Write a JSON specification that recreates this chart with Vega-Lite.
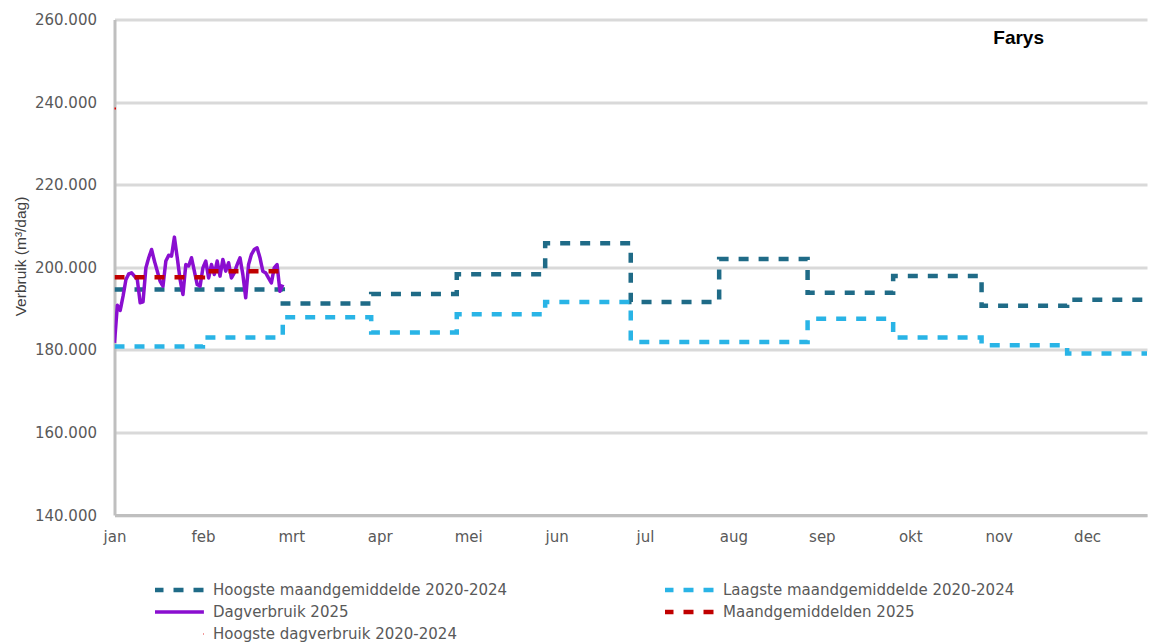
{
  "$schema": "https://vega.github.io/schema/vega-lite/v6.json",
  "width": 1032.5,
  "height": 495.5,
  "autosize": {"type": "none"},
  "padding": {"left": 114.5, "top": 19.5, "right": 2, "bottom": 128},
  "background": "white",
  "title": {"text": "Farys", "anchor": "end", "frame": "group", "orient": "top", "offset": -24.5, "dx": -103, "dy": 26, "baseline": "alphabetic", "font": "Liberation Sans", "fontSize": 19, "fontWeight": "bold", "color": "#000000"},
  "datasets": {
    "maand": [
      {"dag": 0, "waarde": 194600, "reeks": "Hoogste maandgemiddelde 2020-2024"},
      {"dag": 31, "waarde": 194600, "reeks": "Hoogste maandgemiddelde 2020-2024"},
      {"dag": 59, "waarde": 191200, "reeks": "Hoogste maandgemiddelde 2020-2024"},
      {"dag": 90, "waarde": 193500, "reeks": "Hoogste maandgemiddelde 2020-2024"},
      {"dag": 120, "waarde": 198300, "reeks": "Hoogste maandgemiddelde 2020-2024"},
      {"dag": 151, "waarde": 205800, "reeks": "Hoogste maandgemiddelde 2020-2024"},
      {"dag": 181, "waarde": 191600, "reeks": "Hoogste maandgemiddelde 2020-2024"},
      {"dag": 212, "waarde": 202000, "reeks": "Hoogste maandgemiddelde 2020-2024"},
      {"dag": 243, "waarde": 193800, "reeks": "Hoogste maandgemiddelde 2020-2024"},
      {"dag": 273, "waarde": 197900, "reeks": "Hoogste maandgemiddelde 2020-2024"},
      {"dag": 304, "waarde": 190700, "reeks": "Hoogste maandgemiddelde 2020-2024"},
      {"dag": 334, "waarde": 192100, "reeks": "Hoogste maandgemiddelde 2020-2024"},
      {"dag": 365, "waarde": 192100, "reeks": "Hoogste maandgemiddelde 2020-2024"},
      {"dag": 0, "waarde": 180800, "reeks": "Laagste maandgemiddelde 2020-2024"},
      {"dag": 31, "waarde": 183000, "reeks": "Laagste maandgemiddelde 2020-2024"},
      {"dag": 59, "waarde": 187900, "reeks": "Laagste maandgemiddelde 2020-2024"},
      {"dag": 90, "waarde": 184200, "reeks": "Laagste maandgemiddelde 2020-2024"},
      {"dag": 120, "waarde": 188600, "reeks": "Laagste maandgemiddelde 2020-2024"},
      {"dag": 151, "waarde": 191600, "reeks": "Laagste maandgemiddelde 2020-2024"},
      {"dag": 181, "waarde": 181900, "reeks": "Laagste maandgemiddelde 2020-2024"},
      {"dag": 212, "waarde": 181900, "reeks": "Laagste maandgemiddelde 2020-2024"},
      {"dag": 243, "waarde": 187500, "reeks": "Laagste maandgemiddelde 2020-2024"},
      {"dag": 273, "waarde": 183000, "reeks": "Laagste maandgemiddelde 2020-2024"},
      {"dag": 304, "waarde": 181100, "reeks": "Laagste maandgemiddelde 2020-2024"},
      {"dag": 334, "waarde": 179100, "reeks": "Laagste maandgemiddelde 2020-2024"},
      {"dag": 365, "waarde": 179100, "reeks": "Laagste maandgemiddelde 2020-2024"}
    ],
    "gem": [
      {"dag": 0, "waarde": 197600, "reeks": "Maandgemiddelden 2025"},
      {"dag": 31, "waarde": 199050, "reeks": "Maandgemiddelden 2025"},
      {"dag": 59, "waarde": 199050, "reeks": "Maandgemiddelden 2025"}
    ],
    "max": [
      {"dag": 0, "waarde": 238450, "reeks": "Hoogste dagverbruik 2020-2024"},
      {"dag": 0.6, "waarde": 238450, "reeks": "Hoogste dagverbruik 2020-2024"}
    ],
    "dag": [
      {"dag": 0, "waarde": 181700, "reeks": "Dagverbruik 2025"},
      {"dag": 1, "waarde": 190800, "reeks": "Dagverbruik 2025"},
      {"dag": 2, "waarde": 189550, "reeks": "Dagverbruik 2025"},
      {"dag": 3, "waarde": 193000, "reeks": "Dagverbruik 2025"},
      {"dag": 4, "waarde": 197000, "reeks": "Dagverbruik 2025"},
      {"dag": 5, "waarde": 198400, "reeks": "Dagverbruik 2025"},
      {"dag": 6, "waarde": 198650, "reeks": "Dagverbruik 2025"},
      {"dag": 7, "waarde": 197850, "reeks": "Dagverbruik 2025"},
      {"dag": 8, "waarde": 197000, "reeks": "Dagverbruik 2025"},
      {"dag": 9, "waarde": 191400, "reeks": "Dagverbruik 2025"},
      {"dag": 10, "waarde": 191600, "reeks": "Dagverbruik 2025"},
      {"dag": 11, "waarde": 199850, "reeks": "Dagverbruik 2025"},
      {"dag": 12, "waarde": 202300, "reeks": "Dagverbruik 2025"},
      {"dag": 13, "waarde": 204300, "reeks": "Dagverbruik 2025"},
      {"dag": 14, "waarde": 201500, "reeks": "Dagverbruik 2025"},
      {"dag": 15, "waarde": 199050, "reeks": "Dagverbruik 2025"},
      {"dag": 16, "waarde": 196600, "reeks": "Dagverbruik 2025"},
      {"dag": 17, "waarde": 195400, "reeks": "Dagverbruik 2025"},
      {"dag": 18, "waarde": 201500, "reeks": "Dagverbruik 2025"},
      {"dag": 19, "waarde": 202900, "reeks": "Dagverbruik 2025"},
      {"dag": 20, "waarde": 202700, "reeks": "Dagverbruik 2025"},
      {"dag": 21, "waarde": 207300, "reeks": "Dagverbruik 2025"},
      {"dag": 22, "waarde": 202300, "reeks": "Dagverbruik 2025"},
      {"dag": 23, "waarde": 197000, "reeks": "Dagverbruik 2025"},
      {"dag": 24, "waarde": 193400, "reeks": "Dagverbruik 2025"},
      {"dag": 25, "waarde": 200650, "reeks": "Dagverbruik 2025"},
      {"dag": 26, "waarde": 200300, "reeks": "Dagverbruik 2025"},
      {"dag": 27, "waarde": 202300, "reeks": "Dagverbruik 2025"},
      {"dag": 28, "waarde": 199050, "reeks": "Dagverbruik 2025"},
      {"dag": 29, "waarde": 195800, "reeks": "Dagverbruik 2025"},
      {"dag": 30, "waarde": 195400, "reeks": "Dagverbruik 2025"},
      {"dag": 31, "waarde": 199850, "reeks": "Dagverbruik 2025"},
      {"dag": 32, "waarde": 201500, "reeks": "Dagverbruik 2025"},
      {"dag": 33, "waarde": 197400, "reeks": "Dagverbruik 2025"},
      {"dag": 34, "waarde": 200650, "reeks": "Dagverbruik 2025"},
      {"dag": 35, "waarde": 198250, "reeks": "Dagverbruik 2025"},
      {"dag": 36, "waarde": 201500, "reeks": "Dagverbruik 2025"},
      {"dag": 37, "waarde": 197850, "reeks": "Dagverbruik 2025"},
      {"dag": 38, "waarde": 201900, "reeks": "Dagverbruik 2025"},
      {"dag": 39, "waarde": 199050, "reeks": "Dagverbruik 2025"},
      {"dag": 40, "waarde": 201100, "reeks": "Dagverbruik 2025"},
      {"dag": 41, "waarde": 197400, "reeks": "Dagverbruik 2025"},
      {"dag": 42, "waarde": 198650, "reeks": "Dagverbruik 2025"},
      {"dag": 43, "waarde": 200650, "reeks": "Dagverbruik 2025"},
      {"dag": 44, "waarde": 202300, "reeks": "Dagverbruik 2025"},
      {"dag": 45, "waarde": 198250, "reeks": "Dagverbruik 2025"},
      {"dag": 46, "waarde": 192600, "reeks": "Dagverbruik 2025"},
      {"dag": 47, "waarde": 200650, "reeks": "Dagverbruik 2025"},
      {"dag": 48, "waarde": 203100, "reeks": "Dagverbruik 2025"},
      {"dag": 49, "waarde": 204300, "reeks": "Dagverbruik 2025"},
      {"dag": 50, "waarde": 204700, "reeks": "Dagverbruik 2025"},
      {"dag": 51, "waarde": 202300, "reeks": "Dagverbruik 2025"},
      {"dag": 52, "waarde": 199050, "reeks": "Dagverbruik 2025"},
      {"dag": 53, "waarde": 198650, "reeks": "Dagverbruik 2025"},
      {"dag": 54, "waarde": 197400, "reeks": "Dagverbruik 2025"},
      {"dag": 55, "waarde": 196200, "reeks": "Dagverbruik 2025"},
      {"dag": 56, "waarde": 199850, "reeks": "Dagverbruik 2025"},
      {"dag": 57, "waarde": 200650, "reeks": "Dagverbruik 2025"},
      {"dag": 58, "waarde": 194200, "reeks": "Dagverbruik 2025"},
      {"dag": 59, "waarde": 195800, "reeks": "Dagverbruik 2025"}
    ]
  },
  "encoding": {
    "x": {
      "field": "dag", "type": "quantitative",
      "scale": {"domain": [0, 362], "nice": false, "zero": false},
      "axis": {
        "title": null, "values": [0, 31, 62, 93, 124, 155, 186, 217, 248, 279, 310, 341],
        "labelExpr": "['jan','feb','mrt','apr','mei','jun','jul','aug','sep','okt','nov','dec'][round(datum.value/31)]",
        "grid": false, "ticks": false, "domain": true, "domainColor": "#BFBFBF", "domainWidth": 3,
        "labelFont": "DejaVu Sans", "labelFontSize": 15, "labelColor": "#595959", "labelPadding": 14,
        "labelFlush": false, "labelOverlap": false, "labelBaseline": "top"
      }
    },
    "y": {
      "field": "waarde", "type": "quantitative",
      "scale": {"domain": [140000, 260000], "nice": false, "zero": false},
      "axis": {
        "title": "Verbruik (m³/dag)", "values": [140000, 160000, 180000, 200000, 220000, 240000, 260000],
        "labelExpr": "format(datum.value/1000, '.3f')",
        "grid": true, "gridColor": "#D9D9D9", "gridWidth": 3,
        "ticks": false, "domain": true, "domainColor": "#BFBFBF", "domainWidth": 3,
        "labelFont": "DejaVu Sans", "labelFontSize": 15, "labelColor": "#595959", "labelPadding": 18,
        "titleFont": "Liberation Sans", "titleFontSize": 15.5, "titleFontWeight": "normal", "titleColor": "#404040",
        "titleX": -94.5, "titleY": 236.5, "titleAngle": -90, "titleBaseline": "middle", "titleAlign": "center"
      }
    },
    "color": {
      "field": "reeks", "type": "nominal",
      "scale": {
        "domain": ["Hoogste maandgemiddelde 2020-2024", "Dagverbruik 2025", "Hoogste dagverbruik 2020-2024", "Laagste maandgemiddelde 2020-2024", "Maandgemiddelden 2025"],
        "range": ["#1F6B87", "#8A0ED0", "#E00000", "#29B4E6", "#C00000"]
      },
      "legend": {
        "title": null, "orient": "none", "legendX": 40.5, "legendY": 559.5, "columns": 2,
        "columnPadding": 157, "rowPadding": 0, "clipHeight": 22, "symbolSize": 2540,
        "symbolType": "stroke", "symbolStrokeWidth": 4.5, "labelFont": "DejaVu Sans", "labelFontSize": 15,
        "labelColor": "#595959", "labelOffset": 26.8, "labelLimit": 0, "padding": 0, "symbolOffset": 16.2,
        "encode": {"symbols": {
          "enter": {"size": {"value": 2540}},
          "update": {"size": {"value": 2540}, "strokeWidth": {"signal": "datum.value === 'Dagverbruik 2025' ? 3.5 : (datum.value === 'Hoogste dagverbruik 2020-2024' ? 2 : 4.5)"}}
        }}
      }
    },
    "strokeDash": {
      "field": "reeks", "type": "nominal",
      "scale": {
        "domain": ["Hoogste maandgemiddelde 2020-2024", "Dagverbruik 2025", "Hoogste dagverbruik 2020-2024", "Laagste maandgemiddelde 2020-2024", "Maandgemiddelden 2025"],
        "range": [[10, 10], [1, 0], [1.5, 48.5], [10, 10], [10, 10]]
      }
    }
  },
  "layer": [
    {"data": {"name": "maand"}, "mark": {"type": "line", "interpolate": "step-after", "strokeWidth": 4.5, "clip": true, "strokeCap": "butt"}},
    {"data": {"name": "dag"}, "mark": {"type": "line", "strokeWidth": 3.5, "strokeJoin": "round", "clip": true}},
    {"data": {"name": "gem"}, "mark": {"type": "line", "interpolate": "step-after", "strokeWidth": 4.5, "clip": true, "strokeCap": "butt"}},
    {"data": {"name": "max"}, "mark": {"type": "line", "strokeWidth": 2, "clip": false}}
  ],
  "config": {
    "view": {"stroke": null},
    "legend": {"symbolType": "stroke"}
  }
}
